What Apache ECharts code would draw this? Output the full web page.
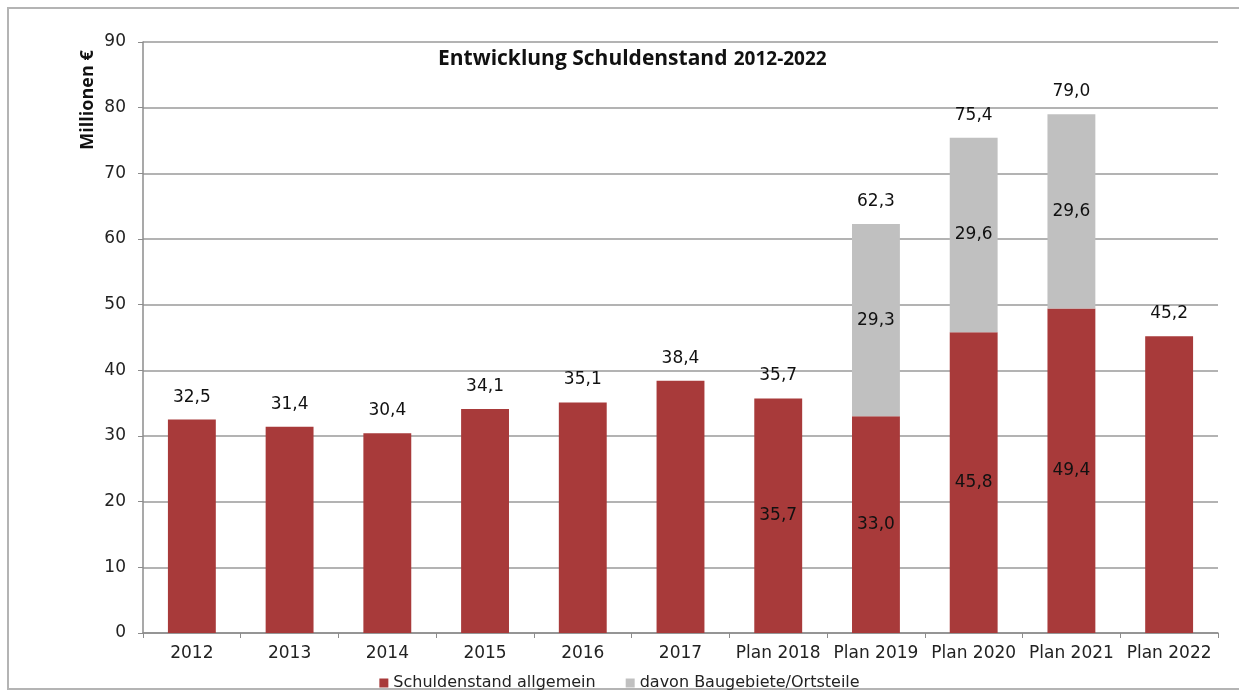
<!DOCTYPE html>
<html>
  <head>
    <title></title>
    <meta charset="UTF-8" />
    <script src="https://cdn.jsdelivr.net/npm/echarts@6/dist/echarts.min.js"></script>
    <style>
      html, body { margin: 0; padding: 0; background: #fff; }
    </style>
  </head>
  <body>
    <div id="main"></div>
    <script>
      const width = 1239;
      const height = 698;
      const main = document.getElementById('main');
      main.style.width = `${width}px`;
      main.style.height = `${height}px`;

      const categories = ['2012', '2013', '2014', '2015', '2016', '2017', 'Plan 2018', 'Plan 2019', 'Plan 2020', 'Plan 2021', 'Plan 2022'];
      const allgemein = [32.5, 31.4, 30.4, 34.1, 35.1, 38.4, 35.7, 33.0, 45.8, 49.4, 45.2];
      const baugebiete = [null, null, null, null, null, null, null, 29.3, 29.6, 29.6, null];
      const totals = [32.5, 31.4, 30.4, 34.1, 35.1, 38.4, 35.7, 62.3, 75.4, 79.0, 45.2];
      // inner labels of the red bars only shown for these
      const innerLabelIdx = [6, 7, 8, 9];

      const fmt = v => v.toFixed(1).replace('.', ',');
      const font = 'DejaVu Sans';

      const myChart = echarts.init(main);
      const option = {
        animation: false,
        backgroundColor: '#fff',
        textStyle: { fontFamily: font },
        graphic: [
          {
            type: 'rect',
            shape: { x: 8, y: 8, width: 1250, height: 681 },
            style: { fill: 'none', stroke: '#b4b4b4', lineWidth: 2 }
          },
          {
            type: 'text',
            x: 88,
            y: 100,
            rotation: Math.PI / 2,
            style: {
              text: 'Millionen €',
              font: 'bold 18px "Open Sans"',
              fill: '#111',
              align: 'center',
              verticalAlign: 'middle'
            }
          }
        ],
        title: {
          text: '{b|Entwicklung Schuldenstand} {n|2012-2022}',
          left: 433,
          top: 44,
          textStyle: {
            rich: {
              b: { fontFamily: 'Open Sans', fontWeight: 'bold', fontSize: 21, color: '#111' },
              n: { fontFamily: 'Open Sans', fontSize: 19, color: '#111' }
            }
          }
        },
        legend: {
          bottom: 2,
          left: 'center',
          itemWidth: 9,
          itemHeight: 9,
          itemGap: 30,
          icon: 'rect',
          data: ['Schuldenstand allgemein', 'davon Baugebiete/Ortsteile'],
          textStyle: { fontFamily: font, fontSize: 16, color: '#222' }
        },
        grid: { left: 143, right: 21, top: 42, bottom: 65 },
        xAxis: {
          type: 'category',
          data: categories,
          axisLine: { lineStyle: { color: '#8c8c8c', width: 1.5 } },
          axisTick: { show: true, length: 5, alignWithLabel: false, lineStyle: { color: '#8c8c8c' } },
          axisLabel: { fontFamily: font, fontSize: 17, color: '#222', margin: 12, interval: 0 }
        },
        yAxis: {
          type: 'value',
          min: 0,
          max: 90,
          interval: 10,
          axisLine: { show: true, lineStyle: { color: '#8c8c8c', width: 1.5 } },
          axisTick: { show: true, length: 5, lineStyle: { color: '#8c8c8c' } },
          axisLabel: { fontFamily: font, fontSize: 17, color: '#222', margin: 17 },
          splitLine: { lineStyle: { color: '#9a9a9a', width: 1.5 } }
        },
        series: [
          {
            name: 'Schuldenstand allgemein',
            type: 'bar',
            stack: 'a',
            barWidth: '49%',
            itemStyle: { color: '#a83a3a' },
            data: allgemein.map((v, i) => ({
              value: v,
              label: { show: innerLabelIdx.includes(i) }
            })),
            label: {
              position: 'inside',
              fontFamily: font,
              fontSize: 17,
              color: '#111',
              formatter: p => fmt(p.value)
            }
          },
          {
            name: 'davon Baugebiete/Ortsteile',
            type: 'bar',
            stack: 'a',
            barWidth: '49%',
            itemStyle: { color: '#c0c0c0' },
            data: baugebiete,
            label: {
              show: true,
              position: 'inside',
              fontFamily: font,
              fontSize: 17,
              color: '#111',
              formatter: p => (p.value == null ? '' : fmt(p.value))
            }
          },
          {
            name: 'Summe',
            type: 'scatter',
            symbolSize: 0,
            itemStyle: { color: '#fff', opacity: 1 },
            data: totals,
            label: {
              show: true,
              position: 'top',
              distance: 14,
              fontFamily: font,
              fontSize: 17,
              color: '#111',
              opacity: 1,
              formatter: p => fmt(p.value)
            },
            z: 5
          }
        ]
      };
      myChart.setOption(option);
    </script>
  </body>
</html>
